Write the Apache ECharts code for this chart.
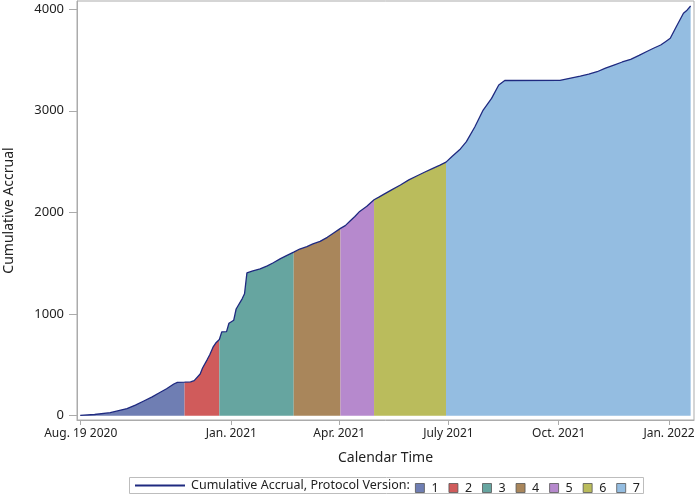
<!DOCTYPE html>
<html>
<head>
<meta charset="utf-8">
<script src="https://cdn.jsdelivr.net/npm/echarts@6/dist/echarts.min.js"></script>
<style>html,body{margin:0;padding:0;background:#fff}#c{width:700px;height:495px}</style>
</head>
<body>
<div id="c"></div>
<script>
// x = days relative to Jan. 1 2021 (as placed on the reference's axis)
const days = [-126,-114,-101,-87,-80,-73,-66,-60,-54,-48,-45,-39,-34,-31,-26,-24,-20,-18,-15,-13,-10,-8,-4,-2,2,4,9,11,13,18,24,30,35,41,46,52,57,63,68,74,80,85,91,95,99,103,107,113,119,123,127,134,141,148,155,161,168,174,179,184,191,196,203,210,217,223,228,274,291,298,305,312,319,326,333,340,346,352,358,362,366,371,377,380,383];
const accrual = [3,12,30,70,105,145,185,226,265,312,328,330,333,345,410,470,555,600,680,715,750,825,827,910,940,1050,1150,1200,1405,1425,1445,1475,1505,1545,1575,1610,1640,1663,1690,1715,1755,1795,1843,1870,1915,1960,2010,2060,2125,2150,2178,2225,2270,2320,2361,2395,2433,2465,2495,2550,2625,2696,2840,3007,3122,3253,3298,3300,3342,3360,3384,3420,3450,3480,3506,3545,3581,3615,3647,3680,3713,3827,3959,3990,4031];
const versions = ['1','2','3','4','5','6','7'];
const versionBreaks = [-126,-39,-10,52,91,119,179,383];
const versionColors = ['#6F7EB3','#D05B5B','#66A5A0','#A9865B','#B689CD','#BABC5C','#94BDE1'];
const xTickValues = [-125.6,0,90,181,273,365];
const xTickLabels = ['Aug. 19 2020','Jan. 2021','Apr. 2021','July 2021','Oct. 2021','Jan. 2022'];
const yTickValues = [0,1000,2000,3000,4000];
const lineName = 'Cumulative Accrual, Protocol Version:';

const points = days.map((d,i)=>[d, accrual[i]]);
const font = 'Noto Sans';
const gray = '#ababab';

const areaSeries = versions.map((v,k)=>({
  name: v,
  type: 'line',
  data: points.filter(p => p[0] >= versionBreaks[k] && p[0] <= versionBreaks[k+1]),
  showSymbol: false,
  symbol: 'none',
  color: versionColors[k],
  lineStyle: {width: 0},
  areaStyle: {color: versionColors[k], opacity: 1},
  silent: true,
  z: 1
}));

const chart = echarts.init(document.getElementById('c'), null, {renderer: 'canvas'});
chart.setOption({
  animation: false,
  backgroundColor: '#fff',
  textStyle: {fontFamily: font},
  grid: {left: 77, right: 6, top: 1, bottom: 75, show: true, borderColor: gray, borderWidth: 1, outerBoundsMode: 'none'},
  xAxis: {
    type: 'value',
    min: -128.7, max: 385.8,
    name: 'Calendar Time', nameLocation: 'middle', nameGap: 31,
    nameTextStyle: {fontSize: 14, color: '#222', fontFamily: font},
    axisLine: {show: true, onZero: false, lineStyle: {color: gray}},
    axisTick: {show: true, length: 5, lineStyle: {color: gray}, customValues: xTickValues},
    axisLabel: {fontSize: 12, color: '#222', margin: 8, customValues: xTickValues,
      formatter: v => { const i = xTickValues.findIndex(t => Math.abs(t - v) < 0.01); return i >= 0 ? xTickLabels[i] : ''; }},
    splitLine: {show: false}
  },
  yAxis: {
    type: 'value',
    min: -42, max: 4080,
    name: 'Cumulative Accrual', nameLocation: 'middle', nameGap: 61,
    nameTextStyle: {fontSize: 14, color: '#222', fontFamily: font},
    axisLine: {show: true, onZero: false, lineStyle: {color: gray}},
    axisTick: {show: true, length: 8, lineStyle: {color: gray}, customValues: yTickValues},
    axisLabel: {fontSize: 13, color: '#222', margin: 13, customValues: yTickValues, formatter: v => String(v)},
    splitLine: {show: false}
  },
  legend: [
    {data: [{name: lineName, icon: 'rect'}], left: 135, top: 479, padding: 0, itemWidth: 50, itemHeight: 2, itemGap: 0,
     textStyle: {fontSize: 12.5, color: '#222', fontFamily: font, padding: [0,0,0,1]}, selectedMode: false},
    {data: versions, left: 415, top: 481.5, padding: 0, itemWidth: 9, itemHeight: 9, itemGap: 10, icon: 'rect',
     itemStyle: {borderColor: '#555', borderWidth: 0.8},
     textStyle: {fontSize: 12.5, color: '#222', fontFamily: font, padding: [0,0,0,2]}, selectedMode: false}
  ],
  graphic: [{type: 'rect', shape: {x: 129.5, y: 477.5, width: 514, height: 16}, style: {fill: 'none', stroke: '#bdbdbd', lineWidth: 1}, silent: true}],
  series: areaSeries.concat([{
    name: lineName,
    type: 'line',
    data: points,
    showSymbol: false,
    symbol: 'none',
    color: '#1f2a80',
    lineStyle: {width: 1.3, color: '#1f2a80'},
    silent: true,
    z: 3
  }])
});
</script>
</body>
</html>
